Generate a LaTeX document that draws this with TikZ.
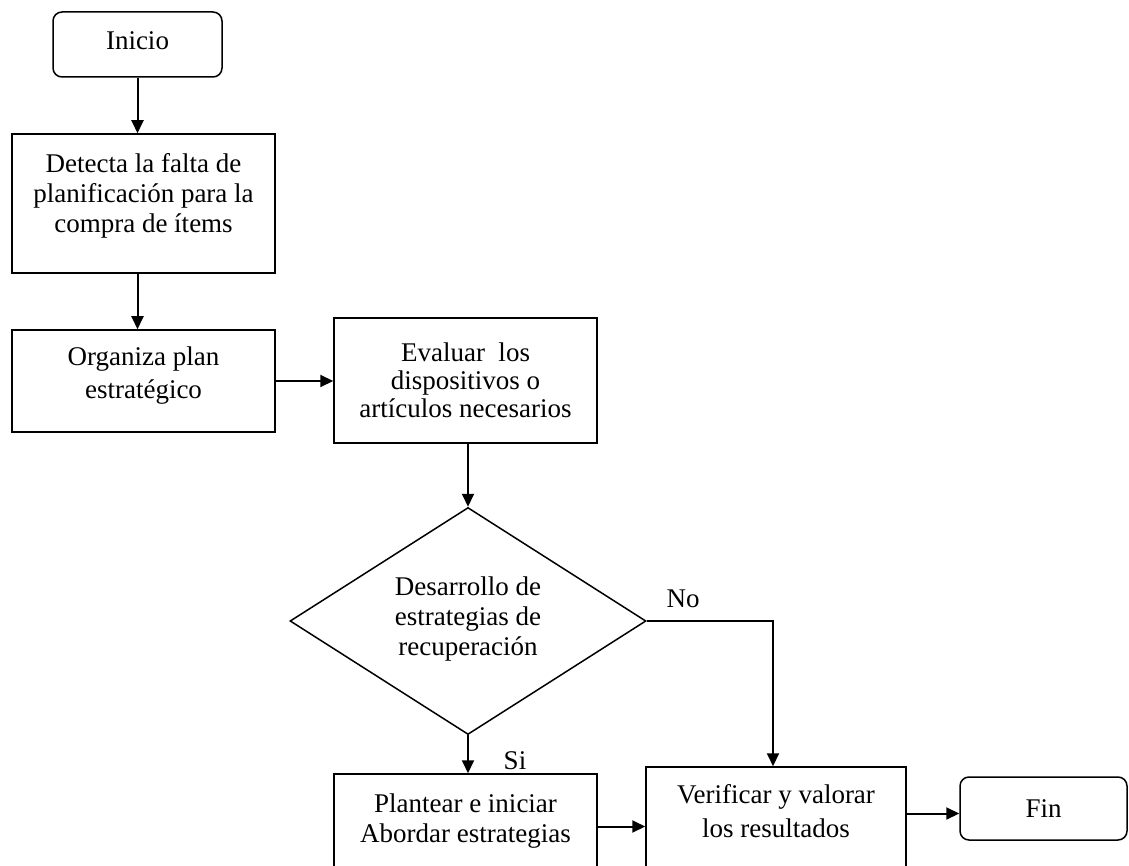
\documentclass[tikz,border=0pt]{standalone}
\usepackage{fontspec}
\setmainfont{Liberation Serif}
\usetikzlibrary{shapes.geometric,arrows.meta}

\begin{document}
\begin{tikzpicture}[x=1pt,y=-1pt,
  txt/.style={font=\fontsize{27}{30}\selectfont, align=center, inner sep=0pt},
  procbox/.style={txt, draw, line width=1.5pt, rectangle},
  termbox/.style={procbox, rounded corners=9pt},
  decbox/.style={txt, draw, line width=1.5pt, diamond, aspect=1.57},
  flow/.style={line width=2pt, -{Triangle[length=13pt,width=12pt]}},
  branch/.style={txt, anchor=base}
]
\clip (0,0) rectangle (1129,866);

% process steps
\node[termbox, minimum width=169pt, minimum height=65pt, text depth=8pt] (inicio) at (137.5,44.5) {Inicio};
\node[procbox, minimum width=263pt, minimum height=139pt, text depth=22pt] (detecta) at (143.5,203.5)
  {Detecta la falta de\\planificación para la\\compra de ítems};
\node[procbox, minimum width=263pt, minimum height=102pt, text depth=17pt] (organiza) at (143.5,381)
  {Organiza plan\\[3pt]estratégico};
\node[procbox, minimum width=263pt, minimum height=125pt] (evaluar) at (465.5,380.5)
  {Evaluar \ los\\[-2pt]dispositivos o\\[-2pt]artículos necesarios};
\node[decbox, minimum width=356pt, minimum height=227pt, text depth=10pt] (decide) at (468,621)
  {Desarrollo de\\estrategias de\\recuperación};
\node[procbox, minimum width=263pt, minimum height=95pt] (plantear) at (465.5,821.5)
  {Plantear e iniciar\\Abordar estrategias};
\node[procbox, minimum width=260pt, minimum height=103pt, text depth=15pt] (verificar) at (776,818.5)
  {Verificar y valorar\\[4pt]los resultados};
\node[termbox, minimum width=167pt, minimum height=63pt] (fin) at (1043.5,808.5) {Fin};

% connectors
\draw[flow] (inicio.south) -- (inicio.south |- detecta.north);
\draw[flow] (inicio.south |- detecta.south) -- (inicio.south |- organiza.north);
\draw[flow] (organiza.east) -- (organiza.east -| evaluar.west);
\draw[flow] (decide.north |- evaluar.south) -- (decide.north);
\draw[flow] (decide.south) -- (decide.south |- plantear.north);
\draw[flow] (decide.east) -| ([xshift=-3pt]verificar.north);
\draw[flow] ([yshift=-5pt]plantear.east) -- ([yshift=-5pt]plantear.east -| verificar.west);
\draw[flow] ([yshift=-5pt]fin.west -| verificar.east) -- ([yshift=-5pt]fin.west);

% branch labels
\node[branch] (no) at (683,607) {No};
\node[branch] (si) at (515,769) {Si};
\end{tikzpicture}
\end{document}
